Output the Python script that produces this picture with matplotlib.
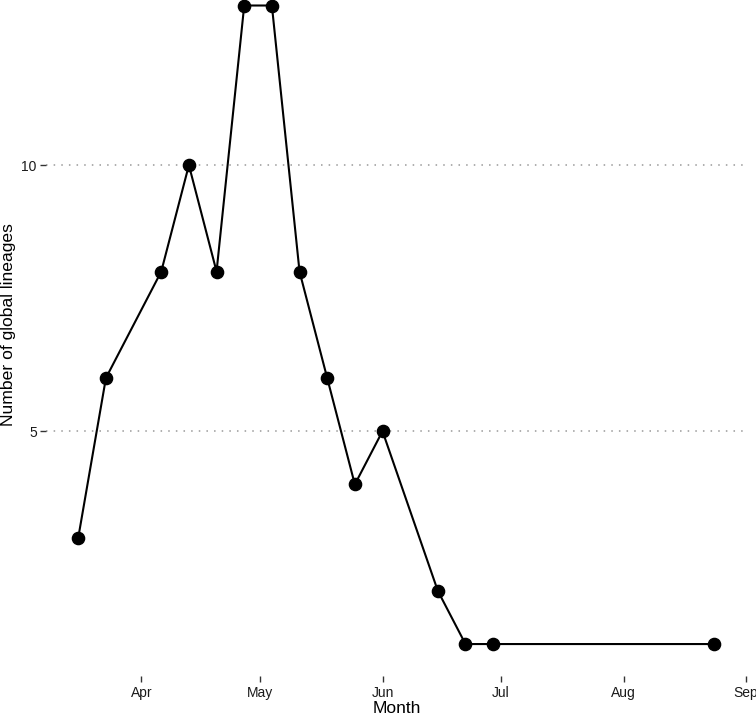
import matplotlib
matplotlib.use("Agg")
import matplotlib.pyplot as plt
import matplotlib.dates as mdates
import numpy as np
import pandas as pd

# weekly counts of global lineages (2020)
weeks = ["2020-03-16", "2020-03-23", "2020-04-06", "2020-04-13", "2020-04-20",
         "2020-04-27", "2020-05-04", "2020-05-11", "2020-05-18", "2020-05-25",
         "2020-06-01", "2020-06-15", "2020-06-22", "2020-06-29", "2020-08-24"]
lineages = [3, 6, 8, 10, 8, 13, 13, 8, 6, 4, 5, 2, 1, 1, 1]

plt.rcParams["font.family"] = ["Liberation Sans", "DejaVu Sans"]

dates = pd.to_datetime(weeks)

fig = plt.figure(figsize=(7.56, 7.16), dpi=100)
# panel runs past the top edge, as in the cropped original
ax = fig.add_axes([0.0615, 0.0559, 0.9255, 0.981])

ax.plot(dates, lineages, color="black", linewidth=1.5, zorder=3,
        clip_on=False)
ax.plot(dates, lineages, "o", color="black", markersize=8.8, zorder=4,
        clip_on=False)

ax.set_xlim(pd.Timestamp("2020-03-07 23:00"), pd.Timestamp("2020-09-01 01:00"))
ax.set_ylim(0.4, 13.6)
ax.set_yticks([5, 10])
ax.xaxis.set_major_locator(mdates.MonthLocator(bymonth=[4, 5, 6, 7, 8, 9]))
ax.xaxis.set_major_formatter(mdates.DateFormatter("%b"))

ax.grid(axis="y", linestyle=(0, (1, 4)), color="#999999", linewidth=1.1)
for s in ax.spines.values():
    s.set_visible(False)
ax.tick_params(length=4, width=1.0, color="#333333", labelsize=10,
               labelcolor="#1a1a1a", pad=3)

ax.set_xlabel("Month", fontsize=12.5, labelpad=1)
ax.set_ylabel("Number of global lineages", fontsize=12.6, labelpad=4)

fig.savefig("out.png", dpi=100)
